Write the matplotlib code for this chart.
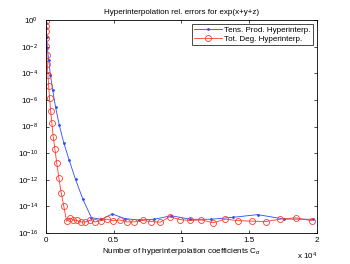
import numpy as np
import matplotlib
matplotlib.use("Agg")
import matplotlib.pyplot as plt

# Tensor-product hyperinterpolation: number of coefficients and log10(rel. error)
tp_coeffs = [8, 27, 64, 125, 216, 343, 512, 729, 1000, 1331, 1728, 2197, 2744,
             3375, 4096, 4913, 5832, 6859, 8000, 9261, 10648, 12167, 13824,
             15625, 17576, 19683]
tp_log_err = [-0.2, -0.6, -1.3, -2.1, -3.0, -4.1, -5.25, -6.56, -7.89, -9.22,
              -10.52, -11.97, -13.47, -14.85, -14.97, -14.57, -14.92, -15.02,
              -14.97, -14.7, -14.97, -14.97, -14.82, -14.62, -14.95, -14.97]

# Total-degree hyperinterpolation
td_coeffs = [4, 10, 20, 35, 56, 84, 120, 165, 220, 286, 364, 455, 560, 680, 816,
             969, 1140, 1330, 1540, 1771, 2024, 2300, 2600, 2925, 3276, 3654,
             4060, 4495, 4960, 5456, 5984, 6545, 7140, 7770, 8436, 9139, 9880,
             10660, 11480, 12341, 13244, 14190, 15180, 16215, 17296, 18424, 19600]
td_log_err = [-0.10, -0.43, -0.85, -1.35, -1.98, -2.63, -3.31, -4.13, -4.96,
              -5.88, -6.81, -7.76, -8.79, -9.71, -10.76, -11.84, -12.97, -13.97,
              -15.12,
              -14.87, -15.02, -15.06, -15.17, -15.17, -15.04, -15.17, -15.07,
              -14.96, -15.08, -15.02, -15.17, -15.16, -15.06, -15.14, -15.19,
              -14.78, -14.99, -15.06, -15.02, -15.23, -14.96, -15.07, -15.11,
              -15.14, -14.96, -14.86, -15.07]

x_ticks = [0, 5000, 10000, 15000, 20000]
x_tick_labels = ["0", "0.5", "1", "1.5", "2"]
y_ticks = [1e0, 1e-2, 1e-4, 1e-6, 1e-8, 1e-10, 1e-12, 1e-14, 1e-16]
y_tick_labels = [r"10$^{0}$", r"10$^{-2}$", r"10$^{-4}$", r"10$^{-6}$", r"10$^{-8}$",
                 r"10$^{-10}$", r"10$^{-12}$", r"10$^{-14}$", r"10$^{-16}$"]

plt.rcParams['font.family'] = ['Liberation Sans', 'DejaVu Sans']
plt.rcParams['mathtext.fontset'] = 'custom'
plt.rcParams['mathtext.rm'] = 'Liberation Sans'
plt.rcParams['mathtext.it'] = 'Liberation Sans:italic'

FS = 5.8
W, H = 350, 264
fig = plt.figure(figsize=(W / 100, H / 100), dpi=100)
l, r, t, b = 45.7, 317, 20, 233
ax = fig.add_axes([l / W, 1 - b / H, (r - l) / W, (b - t) / H])

tp_err = 10.0 ** np.array(tp_log_err)
td_err = 10.0 ** np.array(td_log_err)

ax.semilogy(tp_coeffs, tp_err, '-', color='#2b4bff', lw=0.6, marker='.',
            markersize=2.0, label='Tens. Prod. Hyperinterp.')
ax.semilogy(td_coeffs, td_err, '-', color='#ff3a2a', lw=0.6, marker='o',
            markersize=4.3, markerfacecolor='none', markeredgewidth=0.6,
            label='Tot. Deg. Hyperinterp.')

ax.set_xlim(0, 20000)
ax.set_ylim(1e-16, 1e0)
ax.set_xticks(x_ticks)
ax.set_xticklabels(x_tick_labels)
ax.set_yticks(y_ticks)
ax.set_yticklabels(y_tick_labels)
ax.yaxis.set_minor_locator(matplotlib.ticker.NullLocator())
ax.tick_params(direction='in', length=2.5, width=0.5, labelsize=FS,
               top=True, right=True)
ax.tick_params(axis='y', pad=5.5)
ax.tick_params(axis='x', pad=3)
for s in ax.spines.values():
    s.set_linewidth(0.6)

ax.set_title('Hyperinterpolation rel. errors for exp(x+y+z)', fontsize=FS, pad=4)
ax.set_xlabel(r'Number of hyperinterpolation coefficients C$_\alpha$',
              fontsize=FS, labelpad=1)
fig.text(317 / W, 1 - 256 / H, r'x 10$^4$', fontsize=FS, ha='right', va='center')

leg = ax.legend(loc='upper right', bbox_to_anchor=(0.985, 0.983), fontsize=FS,
                frameon=True, fancybox=False, edgecolor='black', framealpha=1,
                borderpad=0.3, handlelength=3.4, handletextpad=0.3,
                labelspacing=0.2, borderaxespad=0)
leg.get_frame().set_linewidth(0.5)

fig.savefig('out.png', dpi=100)
